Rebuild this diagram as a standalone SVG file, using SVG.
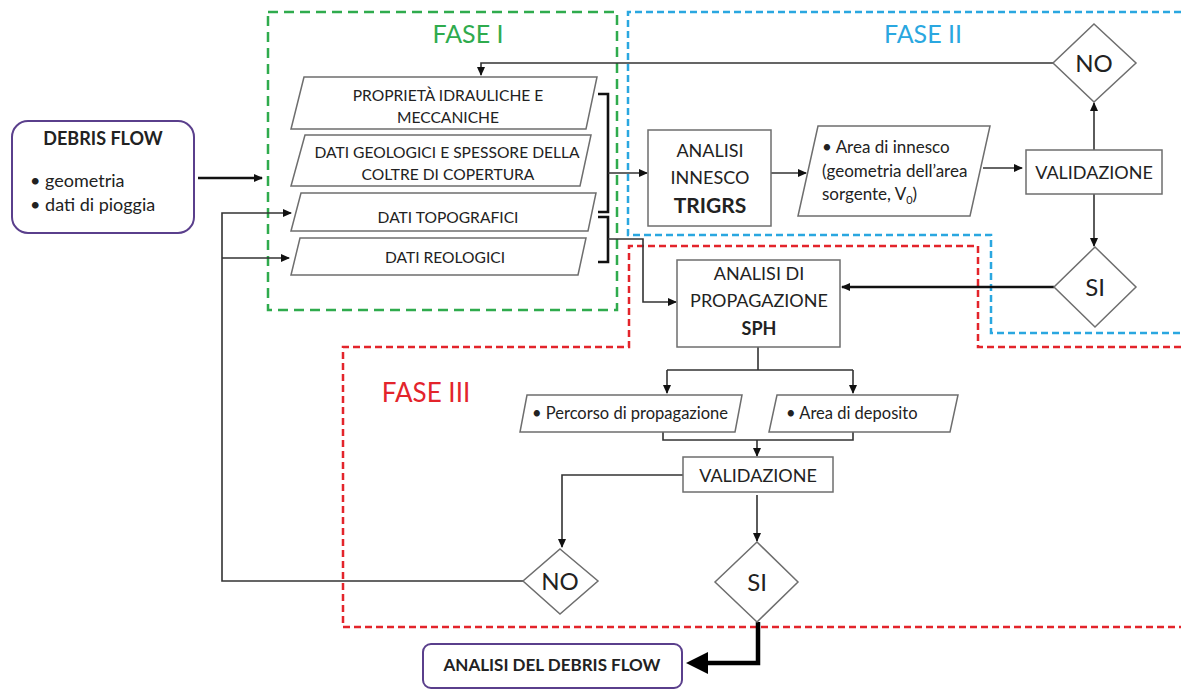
<svg xmlns="http://www.w3.org/2000/svg" width="1181" height="690" viewBox="0 0 1181 690">
<style>
text{font-family:Lato,"Open Sans","Liberation Sans",sans-serif;fill:#222}
.n{fill:#fff;stroke:#6e6e6e;stroke-width:1.5}
.p{fill:#fff;stroke:#5a3f8c;stroke-width:2}
.t{font-size:15.6px;text-anchor:middle}
.m{font-size:18px;text-anchor:middle}
.s{font-size:16.5px}
.b{font-weight:bold}
.c{fill:none;stroke:#333;stroke-width:1.6}
.k{fill:none;stroke:#111;stroke-width:2.6}
.d{font-size:24px;text-anchor:middle}
.ph{font-size:25px;text-anchor:middle}
</style>
<defs>
<marker id="a" markerWidth="10" markerHeight="10" refX="8" refY="5" orient="auto" markerUnits="userSpaceOnUse"><path d="M0,1 L9,5 L0,9 Z" fill="#111"/></marker>
</defs>

<g id="phases">
<rect x="268" y="12" width="349" height="298" fill="none" stroke="#2fab4d" stroke-width="2.5" stroke-dasharray="10 6"/>
<path d="M1181,12 H628 V235 H991 V333 H1181" fill="none" stroke="#2aa7e0" stroke-width="2.5" stroke-dasharray="7 4"/>
<path d="M1181,347 H978 V246 H629 V347 H343 V627 H1181" fill="none" stroke="#e3242b" stroke-width="2.5" stroke-dasharray="7 4"/>
<text x="468" y="43" class="ph" style="fill:#2fab4d">FASE I</text>
<text x="923" y="43" class="ph" style="fill:#2aa7e0">FASE II</text>
<text x="426" y="402" class="ph" style="fill:#e3242b;font-size:26px">FASE III</text>
</g>

<g id="connectors">
<path class="c" d="M1053,63 H481 V75" marker-end="url(#a)"/>
<path class="k" d="M198,178 H262" marker-end="url(#a)"/>
<path class="k" d="M598,94 H608 V212 H598"/>
<path class="k" d="M598,217 H608 V262 H598"/>
<path class="c" d="M608,173 H647" marker-end="url(#a)"/>
<path class="c" d="M608,239 H643 V302 H676" marker-end="url(#a)"/>
<path class="c" d="M771,173 H806" marker-end="url(#a)"/>
<path class="c" d="M983,168 H1022" marker-end="url(#a)"/>
<path class="c" d="M1094,150 V103" marker-end="url(#a)"/>
<path class="c" d="M1094,194 V246" marker-end="url(#a)"/>
<path class="k" d="M1054,287 H842" marker-end="url(#a)"/>
<path class="c" d="M758,347 V370 M667,370 H853"/>
<path class="c" d="M667,370 V393" marker-end="url(#a)"/>
<path class="c" d="M853,370 V393" marker-end="url(#a)"/>
<path class="c" d="M663,432 V440 H853 V432"/>
<path class="c" d="M757,440 V456" marker-end="url(#a)"/>
<path class="c" d="M683,475 H562 V547" marker-end="url(#a)"/>
<path class="c" d="M757,495 V541" marker-end="url(#a)"/>
<path class="c" d="M523,581 H222 V213 H291" marker-end="url(#a)"/>
<path class="c" d="M222,258 H289" marker-end="url(#a)"/>
<path fill="none" stroke="#000" stroke-width="4.5" d="M758,622 V663 H706"/>
<path d="M708,652 L686,663 L708,674 Z" fill="#000"/>
</g>

<g id="debris-flow">
<rect class="p" x="12" y="121" width="182" height="112" rx="16"/>
<text x="103" y="145" class="m b">DEBRIS FLOW</text>
<text x="30" y="187" style="font-size:18px">• geometria</text>
<text x="30" y="211" style="font-size:18px">• dati di pioggia</text>
</g>

<g id="proprieta">
<polygon class="n" points="304,77 597,77 586,129 291,129"/>
<text x="448" y="101" class="t">PROPRIETÀ IDRAULICHE E</text>
<text x="448" y="123" class="t">MECCANICHE</text>
</g>
<g id="dati-geologici">
<polygon class="n" points="305,135 591,135 580,186 291,186"/>
<text x="447" y="158" class="t">DATI GEOLOGICI E SPESSORE DELLA</text>
<text x="448" y="180" class="t">COLTRE DI COPERTURA</text>
</g>
<g id="dati-topografici">
<polygon class="n" points="301,193 596,193 588,231 291,231"/>
<text x="448" y="223" class="t">DATI TOPOGRAFICI</text>
</g>
<g id="dati-reologici">
<polygon class="n" points="300,238 586,238 578,275 291,275"/>
<text x="445" y="263" class="t">DATI REOLOGICI</text>
</g>

<g id="trigrs">
<rect class="n" x="648" y="130" width="123" height="96"/>
<text x="710" y="157" class="m">ANALISI</text>
<text x="710" y="184" class="m">INNESCO</text>
<text x="710" y="213" class="m b" style="font-size:21px">TRIGRS</text>
</g>

<g id="area-innesco">
<polygon class="n" points="818,126 990,126 970,216 798,216"/>
<text x="822" y="153" style="font-size:17px">• Area di innesco</text>
<text x="822" y="177" style="font-size:17px">(geometria dell’area</text>
<text x="822" y="200" style="font-size:17px">sorgente, V<tspan dy="4" style="font-size:11px">0</tspan><tspan dy="-4">)</tspan></text>
</g>

<g id="validazione-1">
<rect class="n" x="1026" y="150" width="136" height="44"/>
<text x="1094" y="179" class="m">VALIDAZIONE</text>
</g>

<g id="no-1">
<polygon class="n" points="1094,24 1136,63 1094,102 1053,63"/>
<text x="1094" y="72" class="d">NO</text>
</g>

<g id="si-1">
<polygon class="n" points="1095,247 1136,287 1095,327 1054,287"/>
<text x="1095" y="296" class="d">SI</text>
</g>

<g id="sph">
<rect class="n" x="677" y="260" width="163" height="87"/>
<text x="759" y="280" class="m">ANALISI DI</text>
<text x="759" y="307" class="m">PROPAGAZIONE</text>
<text x="759" y="335" class="m b">SPH</text>
</g>

<g id="percorso">
<polygon class="n" points="527,395 742,395 735,432 520,432"/>
<text x="532" y="419" class="s">• Percorso di propagazione</text>
</g>

<g id="area-deposito">
<polygon class="n" points="777,395 958,395 950,432 769,432"/>
<text x="786" y="419" class="s">• Area di deposito</text>
</g>

<g id="validazione-2">
<rect class="n" x="683" y="457" width="150" height="35"/>
<text x="758" y="482" class="m">VALIDAZIONE</text>
</g>

<g id="no-2">
<polygon class="n" points="560,549 598,581 560,614 523,581"/>
<text x="560" y="590" class="d">NO</text>
</g>

<g id="si-2">
<polygon class="n" points="757,542 798,582 757,622 715,582"/>
<text x="757" y="591" class="d">SI</text>
</g>

<g id="analisi-debris-flow">
<rect class="p" x="423" y="644" width="259" height="44" rx="8"/>
<text x="552" y="671" class="m b" style="font-size:17px">ANALISI DEL DEBRIS FLOW</text>
</g>
</svg>
